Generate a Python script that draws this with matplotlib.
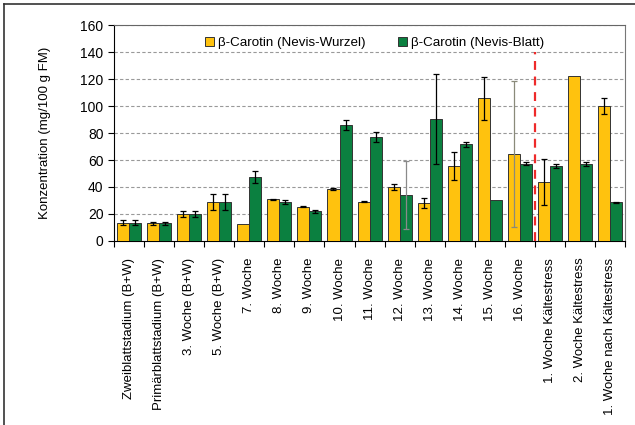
import numpy as np
import matplotlib
matplotlib.use("Agg")
import matplotlib.pyplot as plt
from matplotlib.lines import Line2D

plt.rcParams['font.family'] = ['Liberation Sans', 'DejaVu Sans']

# Daten
stadien = ['Zweiblattstadium (B+W)', 'Primärblattstadium (B+W)', '3. Woche (B+W)',
           '5. Woche (B+W)', '7. Woche', '8. Woche', '9. Woche', '10. Woche',
           '11. Woche', '12. Woche', '13. Woche', '14. Woche', '15. Woche',
           '16. Woche', '1. Woche Kältestress', '2. Woche Kältestress',
           '1. Woche nach Kältestress']
wurzel = [13.6, 13, 20, 29, 12.3, 30.9, 25.5, 38.5, 29.1, 39.8, 27.9, 55.6, 105.7,
          64.2, 43.5, 122.5, 100.2]
wurzel_err = [2, 1, 2, 6, 0, 0.3, 0.5, 0.4, 0.3, 2.3, 3.7, 10.7, 16, 54, 17, 0, 6]
blatt = [13.6, 13, 20, 29, 47.7, 29.1, 22, 85.9, 77.3, 34.1, 90.4, 71.6, 30.4,
         57.3, 55.6, 56.8, 28.6]
blatt_err = [2, 1, 2, 6, 4.5, 1.5, 1, 4, 3.7, 25.5, 33.5, 1.7, 0, 1, 1.5, 1.5, 0.3]

gelb = '#FFC20E'
gruen = '#0B8040'

fig = plt.figure(figsize=(6.35, 4.25), dpi=100)
ax = fig.add_axes([0.1795, 0.433, 0.805, 0.508])

x = np.arange(len(stadien))
b = 0.4
ax.bar(x - b / 2, wurzel, b, color=gelb, edgecolor='#333333', linewidth=0.7,
       label='β-Carotin (Nevis-Wurzel)', zorder=3)
ax.bar(x + b / 2, blatt, b, color=gruen, edgecolor='#333333', linewidth=0.7,
       label='β-Carotin (Nevis-Blatt)', zorder=3)

# Fehlerbalken (zwei davon grau)
for i in range(len(stadien)):
    if wurzel_err[i] > 0:
        c = '#8a8a7a' if i == 13 else 'black'
        ax.errorbar(x[i] - b / 2, wurzel[i], yerr=wurzel_err[i], fmt='none',
                    ecolor=c, elinewidth=0.9, capsize=2.5, capthick=0.9, zorder=4)
    if blatt_err[i] > 0:
        c = '#8a8a8a' if i == 9 else 'black'
        ax.errorbar(x[i] + b / 2, blatt[i], yerr=blatt_err[i], fmt='none',
                    ecolor=c, elinewidth=0.9, capsize=2.5, capthick=0.9, zorder=4)

# rote Trennlinie vor Kältestress
ax.plot([13.5, 13.5], [0, 140], color='#EE2A2A', linestyle=(0, (4, 3)),
        linewidth=1.6, zorder=5)

ax.set_xlim(-0.5, len(stadien) - 0.5)
ax.set_ylim(0, 160)
ax.set_yticks(range(0, 161, 20))
ax.yaxis.grid(True, color='#999999', linestyle=(0, (3, 2)), linewidth=0.8, zorder=0)
ax.set_axisbelow(True)

ax.set_xticks(np.arange(-0.5, len(stadien)), labels=[])
ax.set_xticks(x, labels=stadien, minor=True, rotation=90, fontsize=9.5)
ax.tick_params(axis='x', which='minor', length=0, pad=12)
ax.tick_params(axis='x', which='major', length=4, width=0.8, direction='out')
ax.tick_params(axis='y', labelsize=10, length=4, width=0.8, direction='out')

ax.spines['left'].set_color('black')
ax.spines['bottom'].set_color('black')
ax.spines['top'].set_color('#666666')
ax.spines['right'].set_color('#777777')

ax.set_ylabel('Konzentration (mg/100 g FM)', fontsize=9.5, labelpad=21)

ax.legend(loc='upper center', bbox_to_anchor=(0.51, 1.0), ncol=2, frameon=False,
          fontsize=9.6, handlelength=0.7, handleheight=0.7, handletextpad=0.3,
          columnspacing=2.4)

# Rahmen um die Grafik
fig.add_artist(Line2D([3.5 / 635, 3.5 / 635], [0, 1 - 4 / 425], color='#333333', lw=1.2))
fig.add_artist(Line2D([3.5 / 635, 1], [1 - 4 / 425, 1 - 4 / 425], color='#333333', lw=1.2))

fig.savefig('out.png', dpi=100)
